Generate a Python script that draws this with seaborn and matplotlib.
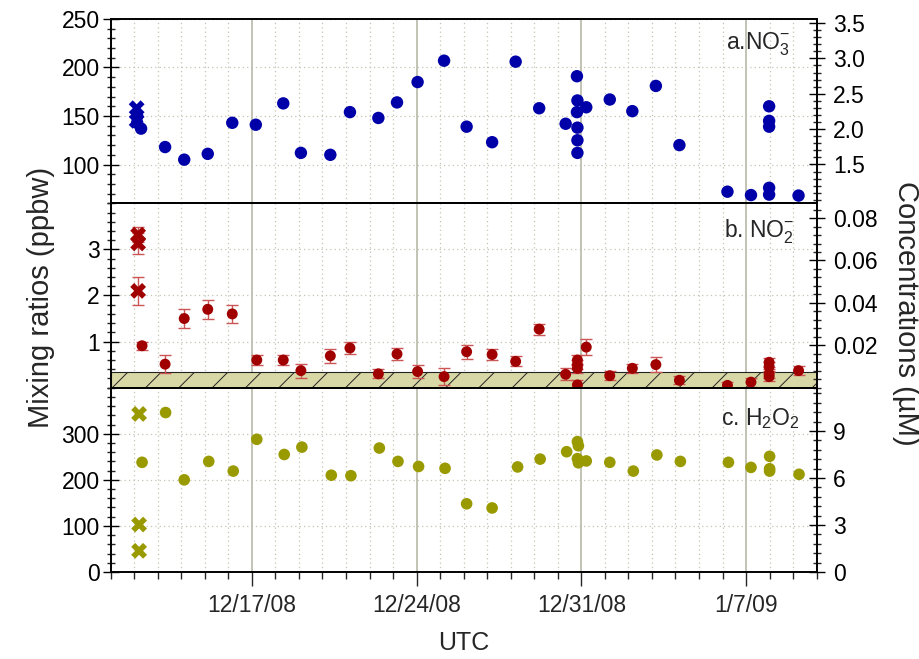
import numpy as np
import pandas as pd
import matplotlib
matplotlib.use('Agg')
import matplotlib.pyplot as plt
import matplotlib.dates as mdates
from matplotlib.ticker import MultipleLocator, FixedLocator, FormatStrFormatter
import seaborn as sns

sns.set_style('white')
plt.rcParams['font.family'] = ['Liberation Sans', 'DejaVu Sans']
plt.rcParams['mathtext.default'] = 'regular'
plt.rcParams['hatch.linewidth'] = 0.7

# ---------------- data ----------------
# a. NO3- (ppbw)
no3_time = ['2008-12-12 03:00', '2008-12-12 03:00', '2008-12-12 07:00', '2008-12-13 07:30',
            '2008-12-14 03:00', '2008-12-15 03:00', '2008-12-16 04:00', '2008-12-17 04:00',
            '2008-12-18 08:00', '2008-12-19 02:00', '2008-12-20 08:00', '2008-12-21 04:00',
            '2008-12-22 09:00', '2008-12-23 04:00', '2008-12-24 01:00', '2008-12-25 04:00',
            '2008-12-26 03:00', '2008-12-27 05:00', '2008-12-28 05:00', '2008-12-29 05:00',
            '2008-12-30 08:00', '2008-12-30 19:30', '2008-12-30 20:00', '2008-12-30 19:30',
            '2008-12-30 20:00', '2008-12-30 20:00', '2008-12-30 20:00', '2008-12-31 05:00',
            '2009-01-01 05:00', '2009-01-02 04:00', '2009-01-03 04:00', '2009-01-04 04:00',
            '2009-01-06 05:00', '2009-01-07 05:00', '2009-01-07 23:30', '2009-01-07 23:30',
            '2009-01-07 23:30', '2009-01-07 23:30', '2009-01-07 23:30', '2009-01-09 05:30']
no3_ppbw = [150, 143, 137, 118, 105, 111, 143, 141, 163, 112, 110, 154, 148, 164, 185, 207,
            139, 123, 206, 158, 142, 191, 166, 154, 138, 125, 112, 159, 167, 155, 181, 120,
            72, 68.5, 160, 145, 139, 76, 69, 68]
no3_x_time = ['2008-12-12 02:30', '2008-12-12 02:30']
no3_x_ppbw = [158, 145]

# b. NO2- (ppbw) with uncertainty
no2_time = ['2008-12-12 08:00', '2008-12-13 07:30', '2008-12-14 03:00', '2008-12-15 03:00',
            '2008-12-16 04:00', '2008-12-17 05:00', '2008-12-18 08:00', '2008-12-19 02:00',
            '2008-12-20 08:00', '2008-12-21 04:00', '2008-12-22 09:00', '2008-12-23 04:00',
            '2008-12-24 01:00', '2008-12-25 04:00', '2008-12-26 03:00', '2008-12-27 05:00',
            '2008-12-28 05:00', '2008-12-29 05:00', '2008-12-30 08:00', '2008-12-30 20:00',
            '2008-12-30 20:00', '2008-12-30 20:00', '2008-12-30 20:00', '2008-12-31 05:00',
            '2009-01-01 05:00', '2009-01-02 04:00', '2009-01-03 04:00', '2009-01-04 04:00',
            '2009-01-06 05:00', '2009-01-07 05:00', '2009-01-07 23:30', '2009-01-07 23:30',
            '2009-01-07 23:30', '2009-01-07 23:30', '2009-01-09 05:30']
no2_ppbw = [0.91, 0.51, 1.50, 1.70, 1.60, 0.60, 0.60, 0.37, 0.69, 0.86, 0.30, 0.73, 0.35, 0.24,
            0.78, 0.72, 0.57, 1.27, 0.29, 0.60, 0.50, 0.42, 0.06, 0.88, 0.26, 0.42, 0.50, 0.16,
            0.05, 0.12, 0.55, 0.46, 0.30, 0.24, 0.37]
no2_err = [0.09, 0.19, 0.20, 0.20, 0.20, 0.10, 0.10, 0.15, 0.15, 0.14, 0.10, 0.13, 0.15, 0.18,
           0.15, 0.12, 0.11, 0.12, 0.13, 0.10, 0.10, 0.10, 0.10, 0.18, 0.10, 0.10, 0.16, 0.09,
           0.07, 0.10, 0.10, 0.10, 0.10, 0.10, 0.09]
no2_x_time = ['2008-12-12 04:00', '2008-12-12 04:00', '2008-12-12 04:00']
no2_x_ppbw = [3.32, 3.13, 2.10]
no2_x_err = [0.17, 0.22, 0.30]
no2_detection_limit = 0.35

# c. H2O2 (ppbw)
h2o2_time = ['2008-12-12 08:00', '2008-12-13 08:00', '2008-12-14 03:00', '2008-12-15 04:00',
             '2008-12-16 05:00', '2008-12-17 05:00', '2008-12-18 09:00', '2008-12-19 03:00',
             '2008-12-20 09:00', '2008-12-21 05:00', '2008-12-22 10:00', '2008-12-23 05:00',
             '2008-12-24 02:00', '2008-12-25 05:00', '2008-12-26 03:00', '2008-12-27 05:00',
             '2008-12-28 07:00', '2008-12-29 06:00', '2008-12-30 09:00', '2008-12-30 20:00',
             '2008-12-30 20:00', '2008-12-30 21:00', '2008-12-30 21:00', '2008-12-31 05:00',
             '2009-01-01 05:00', '2009-01-02 05:00', '2009-01-03 05:00', '2009-01-04 05:00',
             '2009-01-06 06:00', '2009-01-07 05:00', '2009-01-08 00:00', '2009-01-08 00:00',
             '2009-01-08 00:00', '2009-01-09 06:00']
h2o2_ppbw = [238, 346, 200, 240, 219, 288, 255, 271, 210, 209, 269, 240, 229, 225, 148, 139,
             228, 245, 261, 283, 246, 274, 237, 241, 238, 219, 254, 240, 238, 227, 251, 224,
             219, 212]
h2o2_x_time = ['2008-12-12 05:00', '2008-12-12 05:00', '2008-12-12 05:00']
h2o2_x_ppbw = [343, 103, 46]

week_ticks = ['2008-12-17', '2008-12-24', '2008-12-31', '2009-01-07']
week_labels = ['12/17/08', '12/24/08', '12/31/08', '1/7/09']

# ---------------- colors ----------------
BLUE = '#0000a8'
RED = '#a00000'
ERR = '#cc5555'
OLIVE = '#999900'
GRID_MAJ = '#b8b8a8'
GRID_MIN = '#c4c4b4'
TICK_FS = 16.5

T = pd.to_datetime

fig = plt.figure(figsize=(9.2, 6.59), dpi=100)
axes = fig.subplots(3, 1, sharex=True, gridspec_kw=dict(hspace=0))
fig.subplots_adjust(left=0.1203, right=0.8877, top=0.9712, bottom=0.132)

xmin, xmax = T('2008-12-11'), T('2009-01-10')

panel_cfg = [
    dict(ylim=(60, 250), yticks=[100, 150, 200, 250], yminor=10,
         rlim=(0.95, 3.557), rticks=[1.5, 2.0, 2.5, 3.0, 3.5], rminor=0.1, rfmt='%.1f',
         label=r'a.NO$_3^{-}$', lx=0.962, ly=0.935),
    dict(ylim=(0, 4), yticks=[1, 2, 3], yminor=0.2,
         rlim=(0, 4 / 46.0), rticks=[0.02, 0.04, 0.06, 0.08], rminor=0.004, rfmt='%.2f',
         label=r'b. NO$_2^{-}$', lx=0.968, ly=0.925),
    dict(ylim=(0, 400), yticks=[0, 100, 200, 300], yminor=20,
         rlim=(0, 400 / 34.0), rticks=[0, 3, 6, 9], rminor=0.6, rfmt='%d',
         label=r'c. H$_2$O$_2$', lx=0.976, ly=0.90),
]

for i, (ax, cfg) in enumerate(zip(axes, panel_cfg)):
    ax.set_xlim(xmin, xmax)
    ax.set_ylim(*cfg['ylim'])
    ax.yaxis.set_major_locator(FixedLocator(cfg['yticks']))
    ax.yaxis.set_minor_locator(MultipleLocator(cfg['yminor']))
    ax.xaxis.set_major_locator(FixedLocator(mdates.date2num(T(week_ticks))))
    ax.xaxis.set_minor_locator(mdates.DayLocator())
    ax.grid(False)
    ax.grid(which='major', axis='x', color=GRID_MAJ, lw=1.2, ls='-', zorder=0)
    ax.grid(which='minor', axis='x', color=GRID_MIN, lw=0.9, ls=(0, (1, 2.5)), zorder=0)
    ax.grid(which='major', axis='y', color=GRID_MIN, lw=0.9, ls=(0, (1, 2.5)), zorder=0)
    ax.set_axisbelow(True)
    for s in ax.spines.values():
        s.set_color('black')
        s.set_linewidth(1.2)
    ax.tick_params(axis='y', which='major', direction='inout', length=12, width=1,
                   labelsize=TICK_FS, pad=2, left=True, colors='black')
    ax.tick_params(axis='y', which='minor', direction='inout', length=6, width=1, left=True)
    if i < 2:
        ax.tick_params(axis='x', which='both', bottom=False, labelbottom=False)
    else:
        ax.tick_params(axis='x', which='major', direction='out', length=10, width=1,
                       labelsize=TICK_FS, pad=6, bottom=True)
        ax.tick_params(axis='x', which='minor', direction='out', length=5, width=1, bottom=True)

    tw = ax.twinx()
    tw.set_ylim(*cfg['rlim'])
    tw.yaxis.set_major_locator(FixedLocator(cfg['rticks']))
    tw.yaxis.set_minor_locator(MultipleLocator(cfg['rminor']))
    tw.yaxis.set_major_formatter(FormatStrFormatter(cfg['rfmt']))
    tw.grid(False)
    tw.tick_params(axis='y', which='major', direction='inout', length=12, width=1,
                   labelsize=TICK_FS, pad=6, right=True, colors='black')
    tw.tick_params(axis='y', which='minor', direction='inout', length=6, width=1, right=True)
    for s in tw.spines.values():
        s.set_color('black')
        s.set_linewidth(1.2)

    ax.text(cfg['lx'], cfg['ly'], cfg['label'], transform=ax.transAxes, ha='right', va='top',
            fontsize=TICK_FS, zorder=5)

# panel a
ax = axes[0]
sns.scatterplot(x=T(no3_time), y=no3_ppbw, ax=ax, color=BLUE, s=80, edgecolor='none', zorder=4)
sns.scatterplot(x=T(no3_x_time), y=no3_x_ppbw, ax=ax, color=BLUE, marker='X', s=130,
                edgecolor='none', zorder=4)

# panel b
ax = axes[1]
ax.axhspan(0, no2_detection_limit, facecolor='#d8d8a6', edgecolor='#222222', hatch='/',
           lw=0.8, zorder=1)
ax.errorbar(T(no2_time), no2_ppbw, yerr=no2_err, fmt='none', ecolor=ERR, elinewidth=1,
            capsize=4.5, capthick=1, zorder=3)
ax.errorbar(T(no2_x_time), no2_x_ppbw, yerr=no2_x_err, fmt='none', ecolor=ERR, elinewidth=1,
            capsize=4.5, capthick=1, zorder=3)
sns.scatterplot(x=T(no2_time), y=no2_ppbw, ax=ax, color=RED, s=62, edgecolor='none', zorder=4)
sns.scatterplot(x=T(no2_x_time), y=no2_x_ppbw, ax=ax, color=RED, marker='X', s=130,
                edgecolor='none', zorder=4)

# panel c
ax = axes[2]
sns.scatterplot(x=T(h2o2_time), y=h2o2_ppbw, ax=ax, color=OLIVE, s=70, edgecolor='none', zorder=4)
sns.scatterplot(x=T(h2o2_x_time), y=h2o2_x_ppbw, ax=ax, color=OLIVE, marker='X', s=130,
                edgecolor='none', zorder=4)

for ax in axes:
    ax.set_xlim(xmin, xmax)
    ax.set_xlabel('')
    ax.set_ylabel('')
axes[2].set_xticks(mdates.date2num(T(week_ticks)))
axes[2].set_xticklabels(week_labels)

fig.text(0.045, 0.548, 'Mixing ratios (ppbw)', rotation=90, ha='center', va='center', fontsize=21)
fig.text(0.985, 0.525, 'Concentrations (µM)', rotation=270, ha='center', va='center', fontsize=21)
fig.text(0.504, 0.024, 'UTC', ha='center', va='center', fontsize=18)

fig.savefig('out.png', dpi=100)
